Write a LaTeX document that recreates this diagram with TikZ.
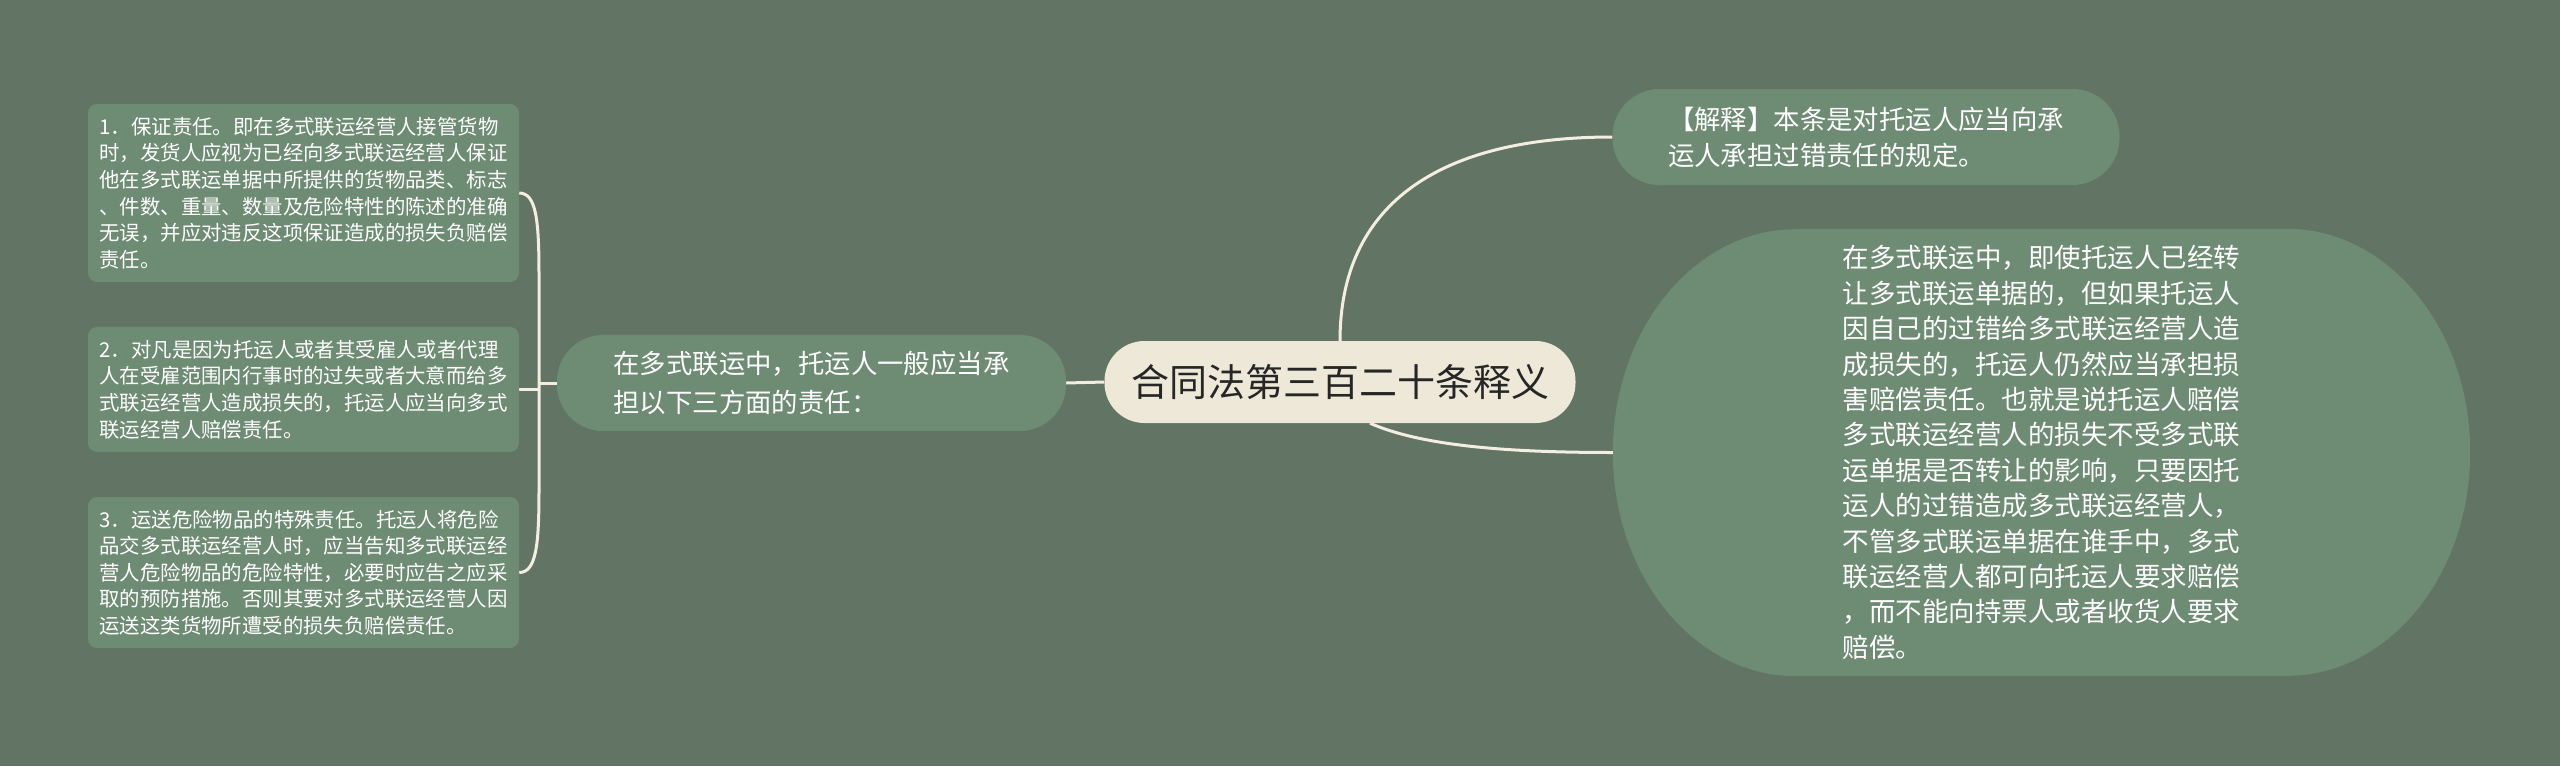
\documentclass[tikz,border=0pt]{standalone}
\usepackage{fontspec}
\setmainfont{Noto Sans CJK SC}
\pgfdeclarelayer{bgzero}
\pgfdeclarelayer{bgone}
\pgfsetlayers{bgzero,bgone,main}
\definecolor{bgc}{HTML}{627464}
\definecolor{nodec}{HTML}{6E8B74}
\definecolor{creamc}{HTML}{EEE8D8}
\definecolor{linec}{HTML}{F3EEDF}
\definecolor{darkt}{HTML}{262626}
\begin{document}
\begin{tikzpicture}[x=1pt,y=1pt,
  conn/.style={draw=linec,line width=3pt},
  leafbox/.style={fill=nodec,rounded corners=9pt,inner sep=0pt,align=left,text=white,
    font=\fontsize{20.4}{26.6}\selectfont,minimum width=431pt},
  greennode/.style={fill=nodec,inner sep=0pt,align=left,text=white},
  centernode/.style={fill=creamc,rounded corners=40pt,inner sep=0pt,text=darkt,
    font=\fontsize{38}{44}\selectfont,minimum width=471pt,minimum height=82pt}]
\begin{pgfonlayer}{bgzero}
\fill[bgc] (0,0) rectangle (2560,-766);
\end{pgfonlayer}
\useasboundingbox (0,0) rectangle (2560,-766);

\node[centernode] (c) at (1340,-382) {合同法第三百二十条释义};

\node[greennode,rounded corners=46pt,minimum width=509pt,minimum height=96pt,
  font=\fontsize{26.4}{39}\selectfont] (mid) at (811.5,-383)
  {在多式联运中，托运人一般应当承\\担以下三方面的责任：};

\node[leafbox,minimum height=178pt] (b1) at (303.5,-193)
  {1．保证责任。即在多式联运经营人接管货物\\时，发货人应视为已经向多式联运经营人保证\\他在多式联运单据中所提供的货物品类、标志\\、件数、重量、数量及危险特性的陈述的准确\\无误，并应对违反这项保证造成的损失负赔偿\\责任。};
\node[leafbox,minimum height=125pt] (b2) at (303.5,-389.5)
  {2．对凡是因为托运人或者其受雇人或者代理\\人在受雇范围内行事时的过失或者大意而给多\\式联运经营人造成损失的，托运人应当向多式\\联运经营人赔偿责任。};
\node[leafbox,minimum height=151pt] (b3) at (303.5,-572.5)
  {3．运送危险物品的特殊责任。托运人将危险\\品交多式联运经营人时，应当告知多式联运经\\营人危险物品的危险特性，必要时应告之应采\\取的预防措施。否则其要对多式联运经营人因\\运送这类货物所遭受的损失负赔偿责任。};

\node[greennode,rounded corners=47pt,minimum width=507pt,minimum height=96pt,
  font=\fontsize{26.4}{36}\selectfont] (rt) at (1866,-137)
  {【解释】本条是对托运人应当向承\\运人承担过错责任的规定。};

\node[inner sep=0pt,align=left,text=white,minimum width=857pt,minimum height=447pt,
  font=\fontsize{26.5}{35.4}\selectfont] (rb) at (2041.5,-452.5)
  {在多式联运中，即使托运人已经转\\让多式联运单据的，但如果托运人\\因自己的过错给多式联运经营人造\\成损失的，托运人仍然应当承担损\\害赔偿责任。也就是说托运人赔偿\\多式联运经营人的损失不受多式联\\运单据是否转让的影响，只要因托\\运人的过错造成多式联运经营人，\\不管多式联运单据在谁手中，多式\\联运经营人都可向托运人要求赔偿\\，而不能向持票人或者收货人要求\\赔偿。};

\coordinate (bj) at (539,-383);
\coordinate (brtop) at (539,-275);
\coordinate (brbot) at (539,-490);

\begin{pgfonlayer}{bgone}
\fill[nodec] ([xshift=183pt]rb.north west) -- ([xshift=-183pt]rb.north east)
  arc[start angle=90,end angle=-90,x radius=183,y radius=223.5]
  -- ([xshift=183pt]rb.south west)
  arc[start angle=-90,end angle=-270,x radius=183,y radius=223.5] -- cycle;
\draw[conn] (b1.east) .. controls ([xshift=17pt]b1.east) and ([yshift=55pt]brtop) .. (brtop)
  -- (brbot) .. controls ([yshift=-55pt]brbot) and ([xshift=17pt]b3.east) .. (b3.east);
\draw[conn] (mid.west) -- (bj);
\draw[conn] (b2.east) -- (b2.east -| bj);
\draw[conn] (mid.east) -- (c.west);
\draw[conn] (c.north) .. controls ([yshift=134pt]c.north) and ([xshift=-177pt]rt.west) .. (rt.west);
\draw[conn] ([xshift=30pt]c.south) .. controls ([xshift=80pt,yshift=-22pt]c.south) and ([xshift=-110pt]rb.west) .. (rb.west);
\end{pgfonlayer}
\end{tikzpicture}
\end{document}
